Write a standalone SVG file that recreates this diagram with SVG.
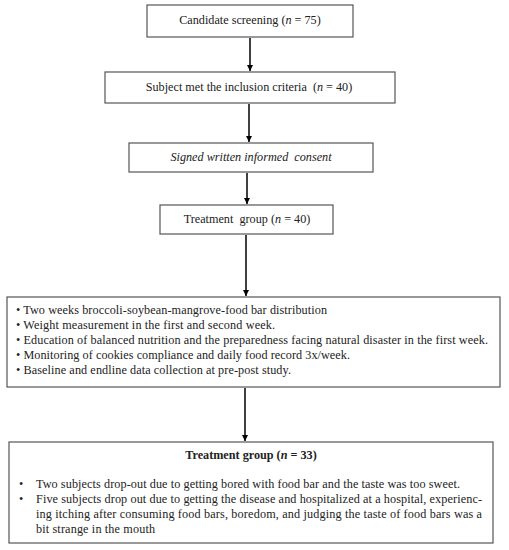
<svg xmlns="http://www.w3.org/2000/svg" width="509" height="550" viewBox="0 0 509 550">
<defs>
<marker id="ah" viewBox="0 0 10 10" refX="10" refY="5" markerWidth="6" markerHeight="6" orient="auto" markerUnits="userSpaceOnUse"><path d="M0,0 L10,5 L0,10 z" fill="#000"/></marker>
<style>
.box{fill:#fff;stroke:#555;stroke-width:1.2}
.t{font-family:"Liberation Serif","DejaVu Serif",serif;font-size:12.2px;fill:#222}
.c{text-anchor:middle}
.conn{stroke:#000;stroke-width:1.5;fill:none;marker-end:url(#ah)}
</style>
</defs>
<rect width="509" height="550" fill="#fff"/>
<g id="connectors">
<line class="conn" x1="250" y1="38" x2="250" y2="71"/>
<line class="conn" x1="249" y1="104" x2="249" y2="142"/>
<line class="conn" x1="247" y1="173" x2="247" y2="204"/>
<line class="conn" x1="246" y1="235" x2="246" y2="296"/>
<line class="conn" x1="245" y1="388" x2="245" y2="441"/>
</g>
<g id="n1">
<rect class="box" x="147" y="5" width="206" height="32"/>
<text class="t c" x="250" y="24">Candidate screening (<tspan font-style="italic">n</tspan> = 75)</text>
</g>
<g id="n2">
<rect class="box" x="105" y="72" width="290" height="31"/>
<text class="t c" x="249" y="91">Subject met the inclusion criteria &#160;(<tspan font-style="italic">n</tspan> = 40)</text>
</g>
<g id="n3">
<rect class="box" x="129" y="143" width="244" height="29"/>
<text class="t c" x="251" y="161" font-style="italic">Signed written informed &#160;consent</text>
</g>
<g id="n4">
<rect class="box" x="160" y="205" width="173" height="29"/>
<text class="t c" x="247" y="223">Treatment &#160;group (<tspan font-style="italic">n</tspan> = 40)</text>
</g>
<g id="n5">
<rect class="box" x="7" y="297" width="493" height="90"/>
<text class="t" x="16" y="314" textLength="311">• Two weeks broccoli-soybean-mangrove-food bar distribution</text>
<text class="t" x="16" y="329" textLength="259">• Weight measurement in the first and second week.</text>
<text class="t" x="16" y="344" textLength="472">• Education of balanced nutrition and the preparedness facing natural disaster in the first week.</text>
<text class="t" x="16" y="359" textLength="334">• Monitoring of cookies compliance and daily food record 3x/week.</text>
<text class="t" x="16" y="374" textLength="275">• Baseline and endline data collection at pre-post study.</text>
</g>
<g id="n6">
<rect class="box" x="9" y="442" width="484" height="101"/>
<text class="t c" x="251" y="459" font-weight="bold">Treatment group (<tspan font-style="italic">n</tspan> = 33)</text>
<text class="t" x="19" y="488">•</text>
<text class="t" x="36" y="488" textLength="424">Two subjects drop-out due to getting bored with food bar and the taste was too sweet.</text>
<text class="t" x="19" y="503">•</text>
<text class="t" x="36" y="503" textLength="446">Five subjects drop out due to getting the disease and hospitalized at a hospital, experienc-</text>
<text class="t" x="36" y="518" textLength="446">ing itching after consuming food bars, boredom, and judging the taste of food bars was a</text>
<text class="t" x="36" y="533" textLength="119">bit strange in the mouth</text>
</g>
</svg>
